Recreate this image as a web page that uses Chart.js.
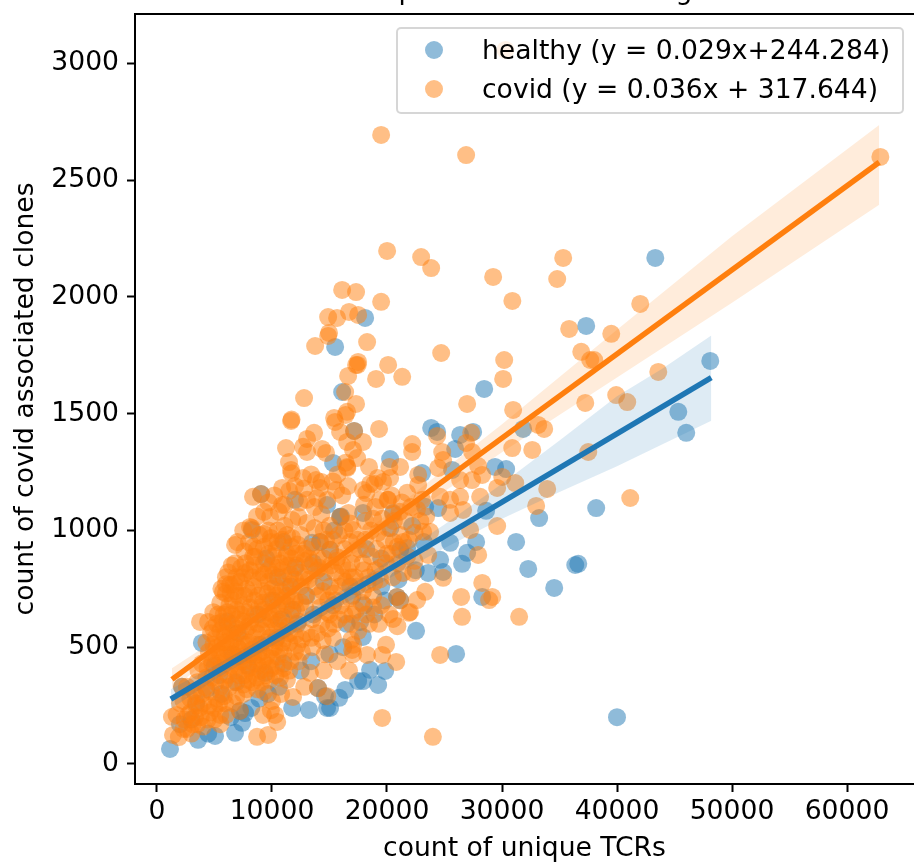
<!DOCTYPE html>
<html>
<head>
<meta charset="utf-8">
<script src="https://cdn.jsdelivr.net/npm/chart.js@4"></script>
<style>
  html, body { margin: 0; padding: 0; background: #fff; }
  #wrap { position: relative; width: 914px; height: 865px; overflow: hidden; font-family: "DejaVu Sans", sans-serif; }
  #legendBox {
    position: absolute; left: 396px; top: 27px; width: 508px; height: 87px; box-sizing: border-box;
    background: rgba(255,255,255,0.8); border: 2px solid rgba(204,204,204,0.8); border-radius: 5px;
  }
  .row { position: absolute; left: 0; height: 30px; line-height: 30px; font-size: 26.6px; color: #000; white-space: nowrap; }
  .row i { position: absolute; left: 27px; top: 6px; width: 18px; height: 18px; border-radius: 50%; }
  .row span { position: absolute; left: 84px; }
</style>
</head>
<body>
<div id="wrap">
  <canvas id="chart" width="914" height="865"></canvas>
  <div id="legendBox">
    <div class="row" style="top:6px"><i style="background:rgba(31,119,180,0.5)"></i><span>healthy (y = 0.029x+244.284)</span></div>
    <div class="row" style="top:45px"><i style="background:rgba(255,127,14,0.5)"></i><span>covid (y = 0.036x + 317.644)</span></div>
  </div>
</div>
<script>
// values
const healthyPoints = [
  [1130,64],[3570,103],[5050,120],[4450,130],[6790,133],[7400,176],[7660,218],[7220,227],[6400,200],[3000,190],
  [2000,170],[8200,240],[11750,240],[13220,231],[14790,240],[15050,240],[15840,283],[16360,317],[17490,355],[17920,355],
  [18530,403],[19840,398],[19230,338],[14000,325],[14600,290],[9650,300],[8900,280],[10600,330],[3900,518],[2175,330],
  [3400,260],[5600,300],[6900,350],[5000,420],[9400,390],[11000,430],[12500,400],[13400,440],[15000,470],[16200,500],
  [17900,544],[17660,608],[22530,570],[26010,471],[16500,600],[18900,640],[20870,715],[21140,702],[19500,760],[17000,720],
  [15300,680],[13600,640],[12200,600],[10400,540],[8200,470],[7000,560],[6100,610],[8800,640],[10100,700],[11600,760],
  [13570,861],[14180,951],[13490,947],[15050,917],[12000,840],[10500,800],[9050,1156],[8260,1002],[9500,880],[11000,950],
  [12000,1131],[14790,1109],[15400,1000],[17920,1075],[16000,1060],[15920,1058],[18200,920],[19500,880],[21140,917],[21750,925],
  [22190,1019],[20530,1075],[20270,1306],[17140,1426],[15310,1289],[18100,1910],[15490,1786],[16100,1593],[23050,1246],[23320,1101],
  [24450,1096],[25660,1259],[25930,1349],[23840,1439],[24360,1422],[26360,1409],[27490,1422],[29400,1272],[30360,1263],[28620,1084],
  [25490,947],[27750,951],[26970,904],[26530,857],[24620,874],[24880,822],[23580,818],[28280,715],[28450,1606],[31840,1435],
  [31230,951],[32280,835],[34540,754],[36370,852],[36630,857],[33230,1053],[38190,1096],[37320,1876],[43330,2167],[48110,1726],
  [45330,1508],[46020,1418],[40000,200],[22500,830],[21000,790],[19800,700],[18000,680],[16800,760],[14500,780],
  [13000,720],[11800,660],[10800,620],[9000,510],[7900,420],[6600,470],[5400,380],[4300,320],[20300,1010],[23200,950]
];
const covidPoints = [
  [19490,2694],[26880,2608],[62900,2600],[30300,3058],[20010,2197],[22970,2171],[23840,2124],[29230,2086],[35320,2167],[34800,2077],
  [42020,1970],[30900,1983],[19490,1979],[16100,2030],[17310,2021],[14880,1914],[15660,1910],[16700,1936],[17490,1923],[14960,1846],
  [14880,1833],[13750,1790],[18270,1807],[24710,1760],[17490,1722],[17310,1709],[20100,1709],[30190,1730],[35840,1863],[36890,1765],
  [37670,1730],[39500,1842],[38020,1730],[43590,1679],[39930,1580],[40890,1550],[37240,1546],[30100,1649],[26970,1542],[30970,1516],
  [37500,1336],[33150,1452],[33670,1435],[30890,1353],[32630,1345],[33930,1178],[32970,1105],[41150,1139],[29580,1019],[22190,1370],
  [22190,1336],[24360,1405],[26880,1375],[27320,1418],[24800,1336],[27400,1336],[24880,1302],[24450,1268],[21140,1272],[27930,1276],
  [30020,1229],[31150,1203],[29580,1182],[28100,1144],[26360,1216],[27400,1216],[28280,1238],[22710,1238],[20270,1225],[22710,1195],
  [21750,1161],[20100,1131],[24620,1144],[25490,1131],[26360,1144],[23050,1131],[26620,1088],[25490,1075],[20530,1070],[27230,1002],
  [23140,994],[23750,994],[27930,895],[23580,895],[24880,797],[22270,818],[21400,818],[23320,737],[26450,715],[28280,775],
  [29150,715],[28880,702],[26530,630],[31490,630],[19920,510],[19580,467],[20800,437],[24620,467],[20530,621],[21920,647],
  [18440,600],[22620,702],[22010,651],[19580,197],[23990,116],[12790,1567],[11660,1469],[11700,1475],[6790,938],[8350,1144],
  [9050,1156],[10880,1182],[11220,1353],[11480,1293],[11660,1259],[11700,1245],[12700,1225],[13830,1216],[14300,1208],[14180,1182],
  [15570,1173],[12700,1358],[13050,1336],[13660,1418],[13050,1392],[14350,1349],[14700,1332],[16530,1272],[16400,1290],[15490,1465],
  [15920,1422],[15400,1482],[16530,1508],[16400,1495],[17310,1542],[16360,1593],[16620,1662],[17450,1709],[19050,1649],[21320,1658],
  [19310,1435],[17140,1426],[17920,1379],[16530,1379],[17050,1345],[17400,1310],[18440,1272],[16550,1268],[20200,1272],[19200,1225],
  [19660,1208],[18900,1199],[18530,1199],[17920,1173],[20050,1131],[10880,1109],[9830,1058],[8090,1015],[8260,1010],[9300,985],
  [9900,968],[13050,1131],[13920,1139],[15920,1058],[16650,1075],[17050,1002],[15000,1020],[13050,1032],[11750,1045],[12300,1058],
  [11750,968],[14180,951],[15050,917],[8350,887],[10400,920],[11200,887],[9900,950],[7660,818],[8520,887],[15700,885],
  [16800,950],[18100,1040],[19000,1100],[18000,1110],[19200,990],[20600,1040],[21200,980],[19800,960],[18600,890],[17900,860],
  [16900,860],[16100,800],[20870,715],[21140,700],[19400,790],[18300,770],[20900,860],[21750,890],[22400,870],[15050,760],
  [14000,720],[16800,710],[17800,690],[18800,720],[19500,680],[15800,620],[16970,488],[17050,470],[16880,531],[17060,510],
  [18270,467],[16700,400],[13500,500],[14600,470],[15300,540],[12600,535],[12300,440],[13300,390],[14500,400],[15700,440],
  [17500,570],[11300,360],[11830,287],[12800,330],[14000,325],[14800,290],[9220,210],[10270,210],[10450,180],[9900,230],
  [8700,116],[9660,124],[10000,270],[7500,300],[6600,260],[5500,210],[7220,227],[3740,608],[4440,608],[4870,582],
  [5740,737],[6350,767],[2175,330],[1390,124],[1300,201],[2600,150],[3500,170],[2900,220],[1900,115],[2400,190],
  [3000,130],[3300,200],[4000,160],[3700,240],[4500,250],[2300,270],[5200,280],[6000,210],[5500,170],[4200,330],
  [3600,400],[4800,370],[5400,430],[6200,380],[5200,500],[6000,520],[6500,470],[7000,420],[7600,380],[8300,350],
  [9000,400],[9800,360],[10400,420],[11000,470],[11500,520],[8800,470],[8000,520],[7200,560],[6500,600],[5800,640],
  [6300,680],[7000,620],[7500,680],[8100,610],[8700,560],[9200,620],[9800,540],[10300,600],[10900,570],[11600,640],
  [12300,610],[12900,670],[13500,620],[14200,670],[12000,700],[11300,680],[10600,660],[9900,700],[9200,740],[8500,700],
  [7800,750],[7100,720],[6700,770],[6000,730],[5500,690],[4900,650],[5200,600],[6400,560],[7000,500],[7500,610],
  [8300,800],[9000,820],[9700,780],[10300,760],[11000,800],[11700,770],[12500,760],[13200,790],[13900,830],[12800,870],
  [12100,900],[11400,850],[10700,860],[10000,850],[9300,860],[8700,920],[9700,900],[10500,1000],[11100,1020],[12500,980],
  [13500,930],[6000,800],[6800,860],[7400,800],[6600,700],[5800,590],[4700,450],[5900,470],[7300,460],[8500,430],
  [9500,460],[10200,500],[10900,520],[12000,480],[13000,560],[14300,600],[15000,640],[16000,680],[17000,640],[18000,830],
  [19000,830],[20000,900],[20500,800],[14500,880],[15500,820],[16300,920],[13000,920],[13700,1010],[14700,960],[17200,800],
  // dense core, x 4000 to 14000
  [4300,520],[4700,560],[5100,540],[5500,570],[5900,550],[6200,590],[6600,530],[6900,580],[7300,530],[7700,570],
  [8000,590],[8400,540],[8800,600],[9100,570],[9500,590],[9900,620],[10200,570],[10600,610],[11000,630],[11400,590],
  [4500,480],[4900,510],[5400,480],[5700,520],[6100,490],[6400,510],[6800,460],[7200,490],[7600,510],[7900,470],
  [8300,490],[8700,510],[9100,480],[9500,520],[9900,490],[10300,530],[10700,490],[11100,540],[11500,560],[12000,550],
  [3900,430],[4400,410],[4800,430],[5200,460],[5600,410],[6000,440],[6400,420],[6800,400],[7200,440],[7600,440],
  [8000,410],[8400,460],[8800,420],[9200,440],[9600,420],[10000,450],[10500,460],[11000,410],[11600,440],[12200,510],
  [5300,640],[5700,610],[6100,650],[6500,640],[6900,660],[7300,640],[7700,650],[8100,670],[8500,640],[8900,670],
  [9300,660],[9700,650],[10100,640],[10500,680],[10900,700],[11300,720],[11700,700],[12100,660],[12500,690],[12900,720],
  [5600,750],[6000,770],[6400,730],[6800,740],[7200,780],[7600,720],[8000,730],[8400,760],[8800,720],[9200,690],
  [9600,730],[10000,750],[10400,720],[10800,740],[11200,760],[11600,810],[12000,790],[12400,820],[12800,800],[13300,850],
  [6200,820],[6500,850],[6900,800],[7300,840],[7700,860],[8100,830],[8500,850],[8900,790],[9300,810],[9700,830],
  [10100,810],[10500,840],[10900,830],[11300,900],[11700,880],[12100,850],[7600,910],[8000,950],[8400,930],[8900,980],
  [9300,930],[9700,1000],[10100,890],[10500,950],[10900,960],[11300,980],[11700,930],[12200,940],[12700,900],[13200,880],
  [3200,310],[3500,350],[3900,300],[4300,370],[4700,310],[5100,350],[5500,330],[5900,360],[6300,330],[6700,350],
  [7100,380],[7500,340],[7900,360],[8300,390],[8700,370],[9100,350],[9500,380],[9900,410],[10300,380],[10700,370],
  [2600,330],[2900,280],[3400,290],[4000,260],[4600,220],[5000,240],[5400,260],[5800,290],[6900,290],[7800,320],
  [8700,320],[9300,310],[10800,300],[11500,400],[12600,480],[13400,540],[13900,560],[14400,530],[14900,580],[15400,600],
  [2000,260],[1700,210],[2300,150],[2700,210],[3100,170],[3400,250],[3800,200],[4400,190],[5000,190],[5900,260],
  // lower right of the core, x 14000 to 24000
  [13800,760],[14400,740],[14900,700],[15400,730],[15900,760],[16400,780],[16900,800],[17400,760],[17900,740],[18400,800],
  [18900,780],[19400,840],[19900,860],[20400,900],[20900,930],[21400,950],[21900,960],[22400,990],[22900,1040],[23400,1060],
  [14100,840],[14600,820],[15100,850],[15600,870],[16100,850],[16600,830],[17100,900],[17600,920],[18100,960],[18600,1000],
  [19100,920],[19600,1050],[20100,1010],[20600,950],[21100,1080],[21600,1040],[22100,1100],[14000,880],[14500,1000],[15300,960],
  [15800,980],[16300,1000],[16800,1030],[17400,960],[18200,1160],[18800,1050],[19400,1130],[20400,1150],[21300,1120],[22600,1090],
  [14800,650],[15500,700],[16300,640],[16900,600],[17300,660],[18200,640],[18800,670],[19300,600],[20200,640],[20900,590],
  // upper left of the core
  [7000,950],[7500,1000],[8700,1060],[9300,1080],[9700,1120],[10200,1150],[10600,1080],[11100,1110],[11500,1170],[12000,1190],
  [12400,1120],[12800,1180],[13400,1240],[13700,1100],[14300,1070],[14800,1130],[15300,1210],[15700,1240],[16100,1150],[16600,1190]
];
const bandHealthyX = [1200,5000,10000,15000,20000,25000,30000,35000,40000,44000,48200];
const bandHealthyUpper = [320,420,560,710,865,1025,1200,1385,1575,1695,1835];
const bandHealthyLower = [235,360,505,650,790,925,1050,1165,1275,1370,1470];
const lineHealthyX = [1200,48200];
const lineHealthyY = [278,1655];
const bandCovidX = [1300,5000,10000,15000,20000,30000,40000,50000,62800];
const bandCovidUpper = [410,530,705,880,1068,1455,1860,2260,2737];
const bandCovidLower = [320,465,645,825,1000,1335,1655,1975,2395];
const lineCovidX = [1300,62800];
const lineCovidY = [362,2577];
const xTicks = [0,10000,20000,30000,40000,50000,60000];
const yTicks = [0,500,1000,1500,2000,2500,3000];

const BLUE = "#1f77b4";
const ORANGE = "#ff7f0e";
const FONT = '"DejaVu Sans", sans-serif';
const FONT_SIZE = 26.6;

const toXY = (xs, ys) => xs.map((x, i) => ({ x, y: ys[i] }));
const toPts = (pts) => pts.map((p) => ({ x: p[0], y: p[1] }));

function scatterSet(pts, rgba, order) {
  return {
    type: "scatter", data: toPts(pts), order,
    pointRadius: 9, pointBackgroundColor: rgba, pointBorderWidth: 0, showLine: false
  };
}
function bandSet(xs, ys, fill, order) {
  return { type: "line", data: toXY(xs, ys), fill, borderWidth: 0, pointRadius: 0, tension: 0, order };
}
function lineSet(xs, ys, color, order) {
  return { type: "line", data: toXY(xs, ys), borderColor: color, borderWidth: 5.5, pointRadius: 0, fill: false, borderCapStyle: "butt", order };
}

// top spine, and what can be seen of the title: it is cut off by the top
// edge of the image, only the tails of a "p" and a "g" are left of it
const extras = {
  id: "extras",
  afterDraw(chart) {
    const { ctx, chartArea } = chart;
    ctx.save();
    ctx.strokeStyle = "#000";
    ctx.lineWidth = 2;
    ctx.beginPath();
    ctx.moveTo(chartArea.left - 1, chartArea.top);
    ctx.lineTo(chartArea.right, chartArea.top);
    ctx.stroke();
    ctx.fillStyle = "#000";
    ctx.font = FONT_SIZE + "px " + FONT;
    ctx.textAlign = "center";
    ctx.textBaseline = "alphabetic";
    ctx.fillText("p", 407, -1);
    ctx.fillText("g", 684, -1);
    ctx.restore();
  }
};

new Chart(document.getElementById("chart"), {
  data: {
    datasets: [
      lineSet(lineCovidX, lineCovidY, ORANGE, 1),
      lineSet(lineHealthyX, lineHealthyY, BLUE, 2),
      bandSet(bandCovidX, bandCovidUpper, { target: "+1", above: "rgba(255,127,14,0.15)", below: "rgba(255,127,14,0.15)" }, 3),
      bandSet(bandCovidX, bandCovidLower, false, 3),
      bandSet(bandHealthyX, bandHealthyUpper, { target: "+1", above: "rgba(31,119,180,0.15)", below: "rgba(31,119,180,0.15)" }, 4),
      bandSet(bandHealthyX, bandHealthyLower, false, 4),
      scatterSet(covidPoints, "rgba(255,127,14,0.5)", 5),
      scatterSet(healthyPoints, "rgba(31,119,180,0.5)", 6)
    ]
  },
  options: {
    responsive: false,
    animation: false,
    layout: { autoPadding: false, padding: { top: 14, right: 0, bottom: 0, left: 0 } },
    plugins: { legend: { display: false }, title: { display: false }, tooltip: { enabled: false } },
    scales: {
      x: {
        type: "linear", min: -1913, max: 65826,
        afterBuildTicks: (s) => { s.ticks = xTicks.map((value) => ({ value })); },
        afterFit: (s) => { s.height = 81; s.paddingLeft = 0; s.paddingRight = 0; },
        border: { display: true, color: "#000", width: 2 },
        grid: { drawOnChartArea: false, color: "#000", tickLength: 8, tickWidth: 2 },
        ticks: { color: "#000", font: { family: FONT, size: FONT_SIZE }, padding: 4, maxRotation: 0, callback: (v) => String(v) },
        title: { display: true, text: "count of unique TCRs", color: "#000", font: { family: FONT, size: FONT_SIZE }, padding: { top: 2, bottom: 0 } }
      },
      y: {
        type: "linear", min: -86, max: 3212,
        afterBuildTicks: (s) => { s.ticks = yTicks.map((value) => ({ value })); },
        afterFit: (s) => { s.width = 135; s.paddingTop = 0; s.paddingBottom = 0; },
        border: { display: true, color: "#000", width: 2 },
        grid: { drawOnChartArea: false, color: "#000", tickLength: 8, tickWidth: 2 },
        ticks: { color: "#000", font: { family: FONT, size: FONT_SIZE }, padding: 8, callback: (v) => String(v) },
        title: { display: true, text: "count of covid associated clones", color: "#000", font: { family: FONT, size: FONT_SIZE }, padding: { top: 10, bottom: 2 } }
      }
    }
  },
  plugins: [extras]
});
</script>
</body>
</html>
